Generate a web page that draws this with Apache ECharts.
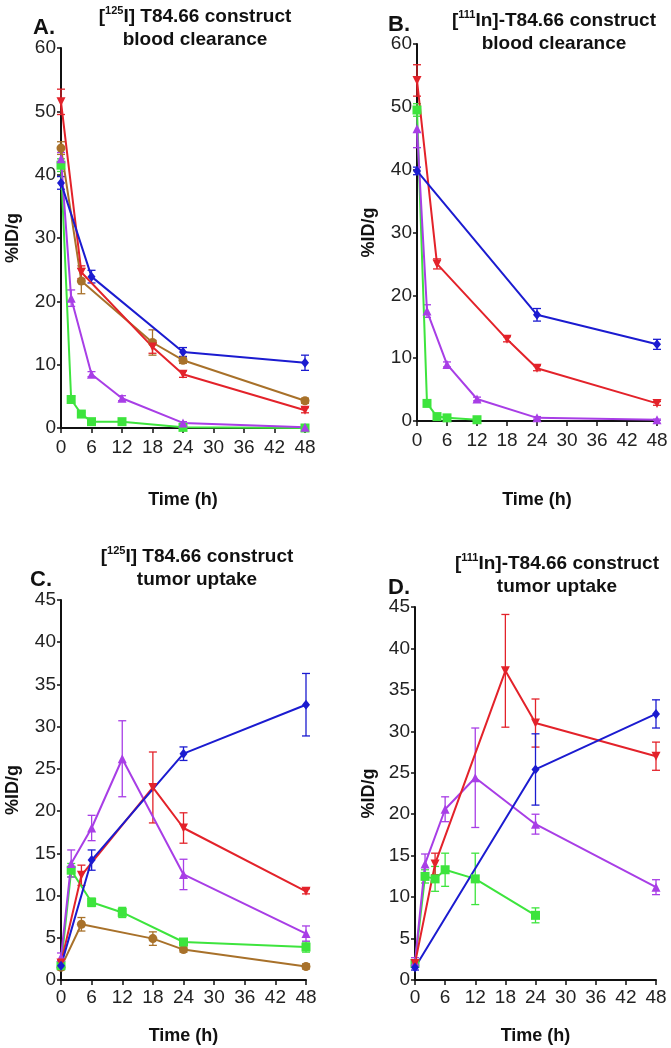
<!DOCTYPE html>
<html>
<head>
<meta charset="utf-8">
<script src="https://cdn.jsdelivr.net/npm/echarts@6/dist/echarts.min.js"></script>
<style>
html, body { margin: 0; padding: 0; background: #fff; }
#main { width: 671px; height: 1048px; }
</style>
</head>
<body>
<div id="main"></div>
<script>
// x ticks
var timeTicks = [0, 6, 12, 18, 24, 30, 36, 42, 48];

// A. [125I] blood clearance
var aBlueT = [0, 6, 24, 48], aBlueV = [38.7, 23.9, 12, 10.3], aBlueE = [1, 1, 0.7, 1.2];
var aRedT = [0, 4, 18, 24, 48], aRedV = [51.5, 24.6, 12.8, 8.5, 2.8], aRedE = [2, 1, 1, 0.5, 0.4];
var aBrownT = [0, 4, 18, 24, 48], aBrownV = [44.2, 23.2, 13.5, 10.7, 4.3], aBrownE = [1, 2, 2, 0.5, 0.4];
var aPurpleT = [0, 2, 6, 12, 24, 48], aPurpleV = [42.5, 20.5, 8.5, 4.7, 0.8, 0.1], aPurpleE = [1, 1.3, 0.4, 0.4, 0.2, 0.1];
var aGreenT = [0, 2, 4, 6, 12, 24, 48], aGreenV = [41.5, 4.5, 2.2, 1, 1, 0.1, 0], aGreenE = [1, 0.5, 0.3, 0.2, 0.2, 0.1, 0.1];

// B. [111In] blood clearance
var bBlueT = [0, 24, 48], bBlueV = [39.8, 16.9, 12.2], bBlueE = [0.6, 1, 0.8];
var bRedT = [0, 4, 18, 24, 48], bRedV = [54.2, 25, 13, 8.4, 2.8], bRedE = [2.5, 0.8, 0.4, 0.4, 0.3];
var bPurpleT = [0, 2, 6, 12, 24, 48], bPurpleV = [46.5, 17.5, 9, 3.5, 0.5, 0.2], bPurpleE = [3, 1, 0.4, 0.3, 0.2, 0.1];
var bGreenT = [0, 2, 4, 6, 12], bGreenV = [49.5, 2.8, 0.7, 0.5, 0.2], bGreenE = [1, 0.4, 0.2, 0.2, 0.1];

// C. [125I] tumor uptake
var cBlueT = [0, 6, 24, 48], cBlueV = [1.7, 14.2, 26.8, 32.6], cBlueE = [0.3, 1.2, 0.8, 3.7];
var cRedT = [0, 4, 18, 24, 48], cRedV = [2, 12.4, 22.8, 18, 10.5], cRedE = [0.3, 1.2, 4.2, 1.8, 0.3];
var cPurpleT = [0, 2, 6, 12, 24, 48], cPurpleV = [2.7, 13.8, 18, 26.2, 12.5, 5.5], cPurpleE = [0.5, 1.6, 1.5, 4.5, 1.8, 0.9];
var cGreenT = [0, 2, 6, 12, 24, 48], cGreenV = [1.7, 13, 9.2, 8, 4.5, 3.9], cGreenE = [0.3, 0.8, 0.5, 0.6, 0.4, 0.6];
var cBrownT = [0, 4, 18, 24, 48], cBrownV = [1.5, 6.6, 4.9, 3.6, 1.6], cBrownE = [0.3, 0.8, 0.8, 0.3, 0.3];

// D. [111In] tumor uptake
var dBlueT = [0, 24, 48], dBlueV = [1.5, 25.4, 32.1], dBlueE = [0.3, 4.3, 1.7];
var dRedT = [0, 4, 18, 24, 48], dRedV = [2, 14, 37.3, 31, 27], dRedE = [0.3, 1.3, 6.8, 2.9, 1.7];
var dPurpleT = [0, 2, 6, 12, 24, 48], dPurpleV = [2.2, 14, 20.6, 24.4, 18.8, 11.2], dPurpleE = [0.5, 1.2, 1.5, 6, 1.2, 0.9];
var dGreenT = [0, 2, 4, 6, 12, 24], dGreenV = [2, 12.5, 12.2, 13.3, 12.2, 7.8], dGreenE = [0.3, 0.8, 1.5, 2, 3.1, 0.9];

var BLUE = '#1b1bd0', RED = '#e3222a', PURPLE = '#a83ee6', GREEN = '#3de43d', BROWN = '#a8712a';
var FONT = 'Liberation Sans, Arial, sans-serif';

var grids = [
	{ left: 61, right: 366, top: 48, bottom: 620, outerBoundsMode: 'none' },
	{ left: 417, right: 14, top: 44, bottom: 627, outerBoundsMode: 'none' },
	{ left: 61, right: 365, top: 600, bottom: 68, outerBoundsMode: 'none' },
	{ left: 415, right: 15, top: 607, bottom: 68, outerBoundsMode: 'none' }
];
var yMax = [60, 60, 45, 45], yStep = [10, 10, 5, 5];
var xNameGap = [63, 70, 47, 47], yNameGap = [39, 39, 39, 37];
var xLabelGap = [10, 10, 8, 8];

var xAxes = [], yAxes = [];
for (var g = 0; g < 4; g++) {
	xAxes.push({
		gridIndex: g, type: 'value', min: 0, max: 48, interval: 6,
		name: 'Time (h)', nameLocation: 'middle', nameGap: xNameGap[g],
		nameTextStyle: { fontFamily: FONT, fontSize: 18, fontWeight: 'bold', color: '#111' },
		axisLine: { lineStyle: { color: '#111', width: 2 } },
		axisTick: { length: 5, lineStyle: { color: '#111', width: 1.5 } },
		axisLabel: { fontFamily: FONT, fontSize: 19, color: '#222', margin: xLabelGap[g] },
		splitLine: { show: false }
	});
	yAxes.push({
		gridIndex: g, type: 'value', min: 0, max: yMax[g], interval: yStep[g],
		name: '%ID/g', nameLocation: 'middle', nameGap: yNameGap[g], nameRotate: 90,
		nameTextStyle: { fontFamily: FONT, fontSize: 18, fontWeight: 'bold', color: '#111' },
		axisLine: { show: true, lineStyle: { color: '#111', width: 2 } },
		axisTick: { show: true, length: 4, lineStyle: { color: '#111', width: 1.5 } },
		axisLabel: { fontFamily: FONT, fontSize: 19, color: '#222', margin: 5 },
		splitLine: { show: false }
	});
}

var series = [];
function addSet(g, t, v, e, color, symbol, rotate) {
	var pts = [], errs = [];
	for (var i = 0; i < t.length; i++) {
		pts.push([t[i], v[i]]);
		errs.push([t[i], v[i], e[i]]);
	}
	series.push({
		type: 'custom', xAxisIndex: g, yAxisIndex: g, data: errs, silent: true,
		renderItem: function (params, api) {
			var x = api.value(0), y = api.value(1), d = api.value(2);
			var hi = api.coord([x, y + d]), lo = api.coord([x, Math.max(0, y - d)]);
			var st = { stroke: color, lineWidth: 1.3 };
			return {
				type: 'group', children: [
					{ type: 'line', shape: { x1: hi[0], y1: hi[1], x2: lo[0], y2: lo[1] }, style: st },
					{ type: 'line', shape: { x1: hi[0] - 4, y1: hi[1], x2: hi[0] + 4, y2: hi[1] }, style: st },
					{ type: 'line', shape: { x1: lo[0] - 4, y1: lo[1], x2: lo[0] + 4, y2: lo[1] }, style: st }
				]
			};
		}
	});
	series.push({
		type: 'line', xAxisIndex: g, yAxisIndex: g, data: pts,
		symbol: symbol, symbolSize: symbol == 'diamond' ? [8, 10] : 9, symbolRotate: rotate || 0,
		lineStyle: { color: color, width: 2 },
		itemStyle: { color: color },
		animation: false
	});
}

addSet(0, aGreenT, aGreenV, aGreenE, GREEN, 'rect');
addSet(0, aPurpleT, aPurpleV, aPurpleE, PURPLE, 'triangle');
addSet(0, aBrownT, aBrownV, aBrownE, BROWN, 'circle');
addSet(0, aRedT, aRedV, aRedE, RED, 'triangle', 180);
addSet(0, aBlueT, aBlueV, aBlueE, BLUE, 'diamond');

addSet(1, bGreenT, bGreenV, bGreenE, GREEN, 'rect');
addSet(1, bPurpleT, bPurpleV, bPurpleE, PURPLE, 'triangle');
addSet(1, bRedT, bRedV, bRedE, RED, 'triangle', 180);
addSet(1, bBlueT, bBlueV, bBlueE, BLUE, 'diamond');

addSet(2, cBrownT, cBrownV, cBrownE, BROWN, 'circle');
addSet(2, cGreenT, cGreenV, cGreenE, GREEN, 'rect');
addSet(2, cPurpleT, cPurpleV, cPurpleE, PURPLE, 'triangle');
addSet(2, cRedT, cRedV, cRedE, RED, 'triangle', 180);
addSet(2, cBlueT, cBlueV, cBlueE, BLUE, 'diamond');

addSet(3, dGreenT, dGreenV, dGreenE, GREEN, 'rect');
addSet(3, dPurpleT, dPurpleV, dPurpleE, PURPLE, 'triangle');
addSet(3, dRedT, dRedV, dRedE, RED, 'triangle', 180);
addSet(3, dBlueT, dBlueV, dBlueE, BLUE, 'diamond');

var titleStyle = {
	fontFamily: FONT, fontSize: 19, fontWeight: 'bold', color: '#111', lineHeight: 23,
	rich: { s: { fontFamily: FONT, fontSize: 11, fontWeight: 'bold', color: '#111', verticalAlign: 'top', lineHeight: 14 } }
};
var letterStyle = { fontFamily: FONT, fontSize: 22, fontWeight: 'bold', color: '#111' };

var titles = [
	{ text: '[{s|125}I] T84.66 construct\nblood clearance', left: 190, top: 0, textAlign: 'center', textStyle: titleStyle },
	{ text: '[{s|111}In]-T84.66 construct\nblood clearance', left: 549, top: 4, textAlign: 'center', textStyle: titleStyle },
	{ text: '[{s|125}I] T84.66 construct\ntumor uptake', left: 192, top: 540, textAlign: 'center', textStyle: titleStyle },
	{ text: '[{s|111}In]-T84.66 construct\ntumor uptake', left: 552, top: 547, textAlign: 'center', textStyle: titleStyle },
	{ text: 'A.', left: 28, top: 12, textStyle: letterStyle },
	{ text: 'B.', left: 383, top: 9, textStyle: letterStyle },
	{ text: 'C.', left: 25, top: 564, textStyle: letterStyle },
	{ text: 'D.', left: 383, top: 572, textStyle: letterStyle }
];

var chart = echarts.init(document.getElementById('main'));
chart.setOption({
	backgroundColor: '#fff',
	animation: false,
	title: titles,
	grid: grids,
	xAxis: xAxes,
	yAxis: yAxes,
	series: series
});
</script>
</body>
</html>
